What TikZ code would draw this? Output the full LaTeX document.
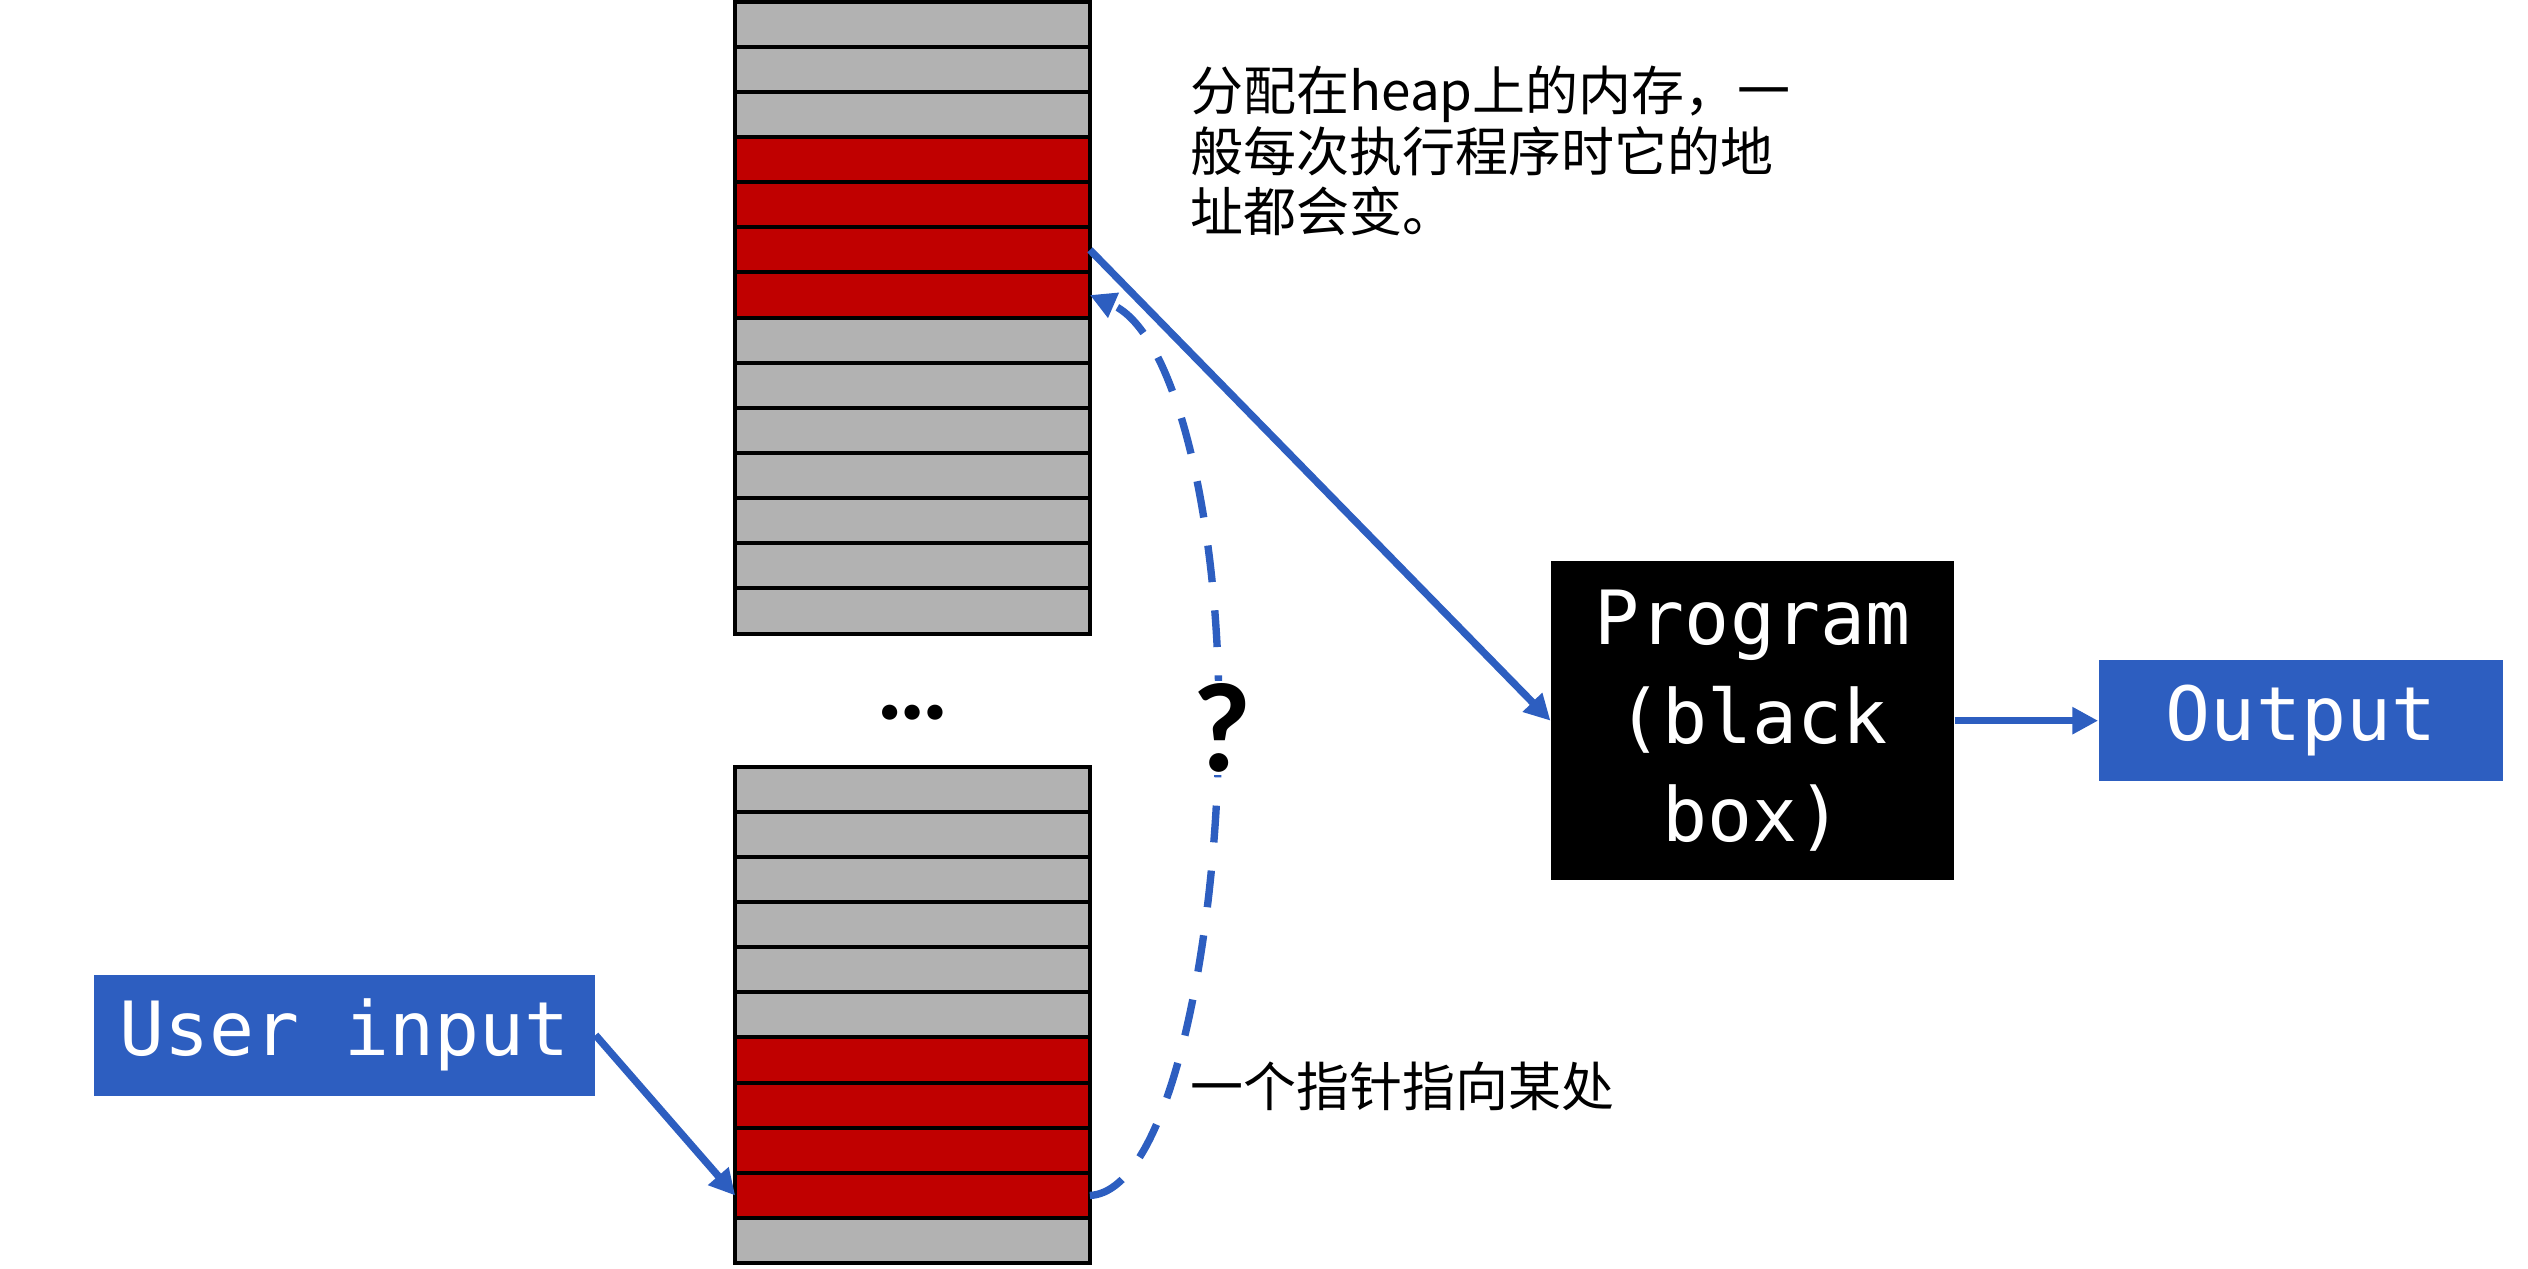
\documentclass[tikz,border=0pt]{standalone}
\usepackage{fontspec}
\newfontfamily\cjk{Noto Sans CJK SC}
\newfontfamily\codefont{DejaVu Sans Mono}
\newfontfamily\calfont{Carlito}
\usetikzlibrary{positioning,arrows.meta}
\definecolor{memgray}{RGB}{178,178,178}
\definecolor{memred}{RGB}{192,0,0}
\definecolor{userblue}{RGB}{45,94,192}
\tikzset{
  cell/.style={draw=black,line width=1.4pt,fill=memgray,minimum width=4.4cm,minimum height=0.56cm,inner sep=0pt,outer sep=0pt},
  bluebox/.style={fill=userblue,text=white,inner sep=0pt,minimum height=1.5cm,font=\codefont\fontsize{26.4}{34.6}\selectfont},
  blackbox/.style={fill=black,text=white,align=center,inner sep=0pt,minimum width=5cm,minimum height=3.96cm,font=\codefont\fontsize{26.4}{34.6}\selectfont},
  link/.style={draw=userblue,line width=2.6pt,-{Triangle[length=0.32cm,width=0.32cm]}},
  note/.style={inner sep=0pt,font=\cjk\fontsize{18.7}{21.4}\selectfont}
}
\begin{document}
\begin{tikzpicture}
\useasboundingbox(0,0)rectangle(31.36,15.73);
%upper heap block
\foreach \i in {1,...,14}{
  \def\f{memgray}
  \ifnum\i>3 \ifnum\i<8 \def\f{memred}\fi\fi
  \node[cell,fill=\f](t\i)at(11.32,15.99-0.56*\i){};
}
%lower heap block
\foreach \i in {1,...,11}{
  \def\f{memgray}
  \ifnum\i>6 \ifnum\i<11 \def\f{memred}\fi\fi
  \node[cell,fill=\f](b\i)at(11.32,6.50-0.56*\i){};
}
\node[anchor=base,font=\calfont\bfseries\fontsize{36}{36}\selectfont](dots)at(11.32,6.80){…};
%boxes
\node[blackbox](prog)at(21.74,6.79){Program\\(black\\box)};
\node[bluebox,minimum width=5.02cm,right=1.78cm of prog](out){Output};
\node[bluebox,minimum width=6.22cm](user)at(4.27,2.89){User input};
%arrows
\draw[link](t6.east)--(prog.west);
\draw[link](prog.east)--(out.west);
\draw[link](user.east)--(b10.west);
\draw[link,dash pattern=on 13pt off 10pt](b10.east)..controls(14.5,0.95)and(15.1,4.0)..(15.12,6.72)
  ..controls(15.14,9.2)and(14.6,11.6)..(t7.east);
\node[anchor=base,fill=white,inner sep=1pt,font=\calfont\bfseries\fontsize{45}{45}\selectfont](q)at(15.16,6.16){?};
%notes
\node[note,anchor=north west,align=left](heapnote)at(14.76,14.92){分配在heap上的内存，一\\般每次执行程序时它的地\\址都会变。};
\node[note,anchor=west](ptrnote)at(14.76,2.26){一个指针指向某处};
\end{tikzpicture}
\end{document}
